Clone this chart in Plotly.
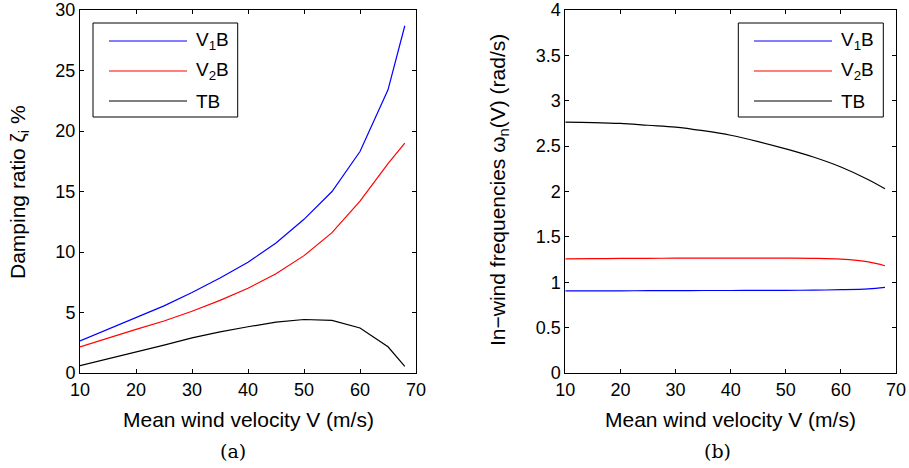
import plotly.graph_objects as go

V = [10, 15, 20, 25, 30, 35, 40, 45, 50, 55, 60, 65, 68]

damp_v1b = [2.65, 3.6, 4.55, 5.55, 6.65, 7.85, 9.15, 10.75, 12.7, 15.0, 18.3, 23.4, 28.7]
damp_v2b = [2.15, 2.9, 3.6, 4.3, 5.1, 6.0, 7.0, 8.2, 9.7, 11.6, 14.2, 17.3, 19.0]
damp_tb = [0.6, 1.15, 1.7, 2.3, 2.9, 3.4, 3.82, 4.2, 4.42, 4.35, 3.72, 2.17, 0.55]

freq_v1b = [0.904, 0.905, 0.906, 0.907, 0.908, 0.909, 0.909, 0.910, 0.911, 0.913, 0.918, 0.928, 0.944]
freq_v2b = [1.258, 1.260, 1.262, 1.264, 1.265, 1.266, 1.266, 1.266, 1.266, 1.264, 1.255, 1.225, 1.182]
freq_tb = [2.765, 2.76, 2.75, 2.73, 2.71, 2.67, 2.62, 2.55, 2.47, 2.38, 2.27, 2.13, 2.03]

series_names = ["V<sub>1</sub>B", "V<sub>2</sub>B", "TB"]
series_colors = ["#0000ff", "#ff0000", "#000000"]

xticks = [10, 20, 30, 40, 50, 60, 70]
yticks_a = [0, 5, 10, 15, 20, 25, 30]
yticks_b = [0, 0.5, 1, 1.5, 2, 2.5, 3, 3.5, 4]

W, H = 909, 468
fig = go.Figure()

for ys, c in zip([damp_v1b, damp_v2b, damp_tb], series_colors):
    fig.add_trace(go.Scatter(x=V, y=ys, mode="lines", line=dict(color=c, width=1.2),
                             xaxis="x", yaxis="y", showlegend=False))
for ys, c in zip([freq_v1b, freq_v2b, freq_tb], series_colors):
    fig.add_trace(go.Scatter(x=V, y=ys, mode="lines", line=dict(color=c, width=1.2, shape="spline"),
                             xaxis="x2", yaxis="y2", showlegend=False))

def px(x):
    return x / W

def py(y):
    return 1 - y / H

font = "Liberation Sans, Arial, sans-serif"
axcommon = dict(showline=True, linecolor="black", linewidth=1, mirror="allticks",
                ticks="inside", ticklen=4, tickcolor="black", showgrid=False, zeroline=False,
                automargin=False,
                tickfont=dict(family=font, size=18, color="black"))

fig.update_layout(
    width=W, height=H, margin=dict(l=0, r=0, t=0, b=0, autoexpand=False),
    paper_bgcolor="white", plot_bgcolor="white",
    xaxis=dict(domain=[px(80), px(416)], range=[10, 70], tickvals=xticks, anchor="y", **axcommon),
    yaxis=dict(domain=[py(373), py(10)], range=[0, 30], tickvals=yticks_a, anchor="x", **axcommon),
    xaxis2=dict(domain=[px(565.3), px(896)], range=[10, 70], tickvals=xticks, anchor="y2", **axcommon),
    yaxis2=dict(domain=[py(373), py(10)], range=[0, 4], tickvals=yticks_b, anchor="x2", **axcommon),
)

shapes = []
annotations = []

def legend(box_l, box_r, line_l, line_r, text_x):
    shapes.append(dict(type="rect", xref="paper", yref="paper",
                       x0=px(box_l), x1=px(box_r), y0=py(117), y1=py(23),
                       line=dict(color="black", width=1), fillcolor="white", layer="above"))
    for i, (name, c) in enumerate(zip(series_names, series_colors)):
        yy = 41 + 30 * i
        shapes.append(dict(type="line", xref="paper", yref="paper",
                           x0=px(line_l), x1=px(line_r), y0=py(yy), y1=py(yy),
                           line=dict(color=c, width=1.2), layer="above"))
        annotations.append(dict(xref="paper", yref="paper", x=px(text_x), y=py(yy),
                                text=name, showarrow=False, xanchor="left", yanchor="middle",
                                font=dict(family=font, size=19, color="black")))

legend(93, 237.7, 109, 187, 194)
legend(738.3, 883.3, 754, 832, 839)

# axis titles
annotations.append(dict(xref="paper", yref="paper", x=px(248), y=py(419), text="Mean wind velocity V (m/s)",
                        showarrow=False, xanchor="center", yanchor="middle",
                        font=dict(family=font, size=21, color="black")))
annotations.append(dict(xref="paper", yref="paper", x=px(730.6), y=py(419), text="Mean wind velocity V (m/s)",
                        showarrow=False, xanchor="center", yanchor="middle",
                        font=dict(family=font, size=21, color="black")))
annotations.append(dict(xref="paper", yref="paper", x=px(19), y=py(192), text="Damping ratio ζ<sub>i</sub> %",
                        showarrow=False, textangle=-90, xanchor="center", yanchor="middle",
                        font=dict(family=font, size=21, color="black")))
annotations.append(dict(xref="paper", yref="paper", x=px(499), y=py(190),
                        text="In−wind frequencies ω<sub>n</sub>(V) (rad/s)",
                        showarrow=False, textangle=-90, xanchor="center", yanchor="middle",
                        font=dict(family=font, size=21, color="black")))
# captions
serif = "DejaVu Serif, Liberation Serif, serif"
annotations.append(dict(xref="paper", yref="paper", x=px(233), y=py(451), text="(a)",
                        showarrow=False, xanchor="center", yanchor="middle",
                        font=dict(family=serif, size=19, color="black")))
annotations.append(dict(xref="paper", yref="paper", x=px(717), y=py(451), text="(b)",
                        showarrow=False, xanchor="center", yanchor="middle",
                        font=dict(family=serif, size=19, color="black")))

fig.update_layout(shapes=shapes, annotations=annotations)
fig.write_html("out.html")
